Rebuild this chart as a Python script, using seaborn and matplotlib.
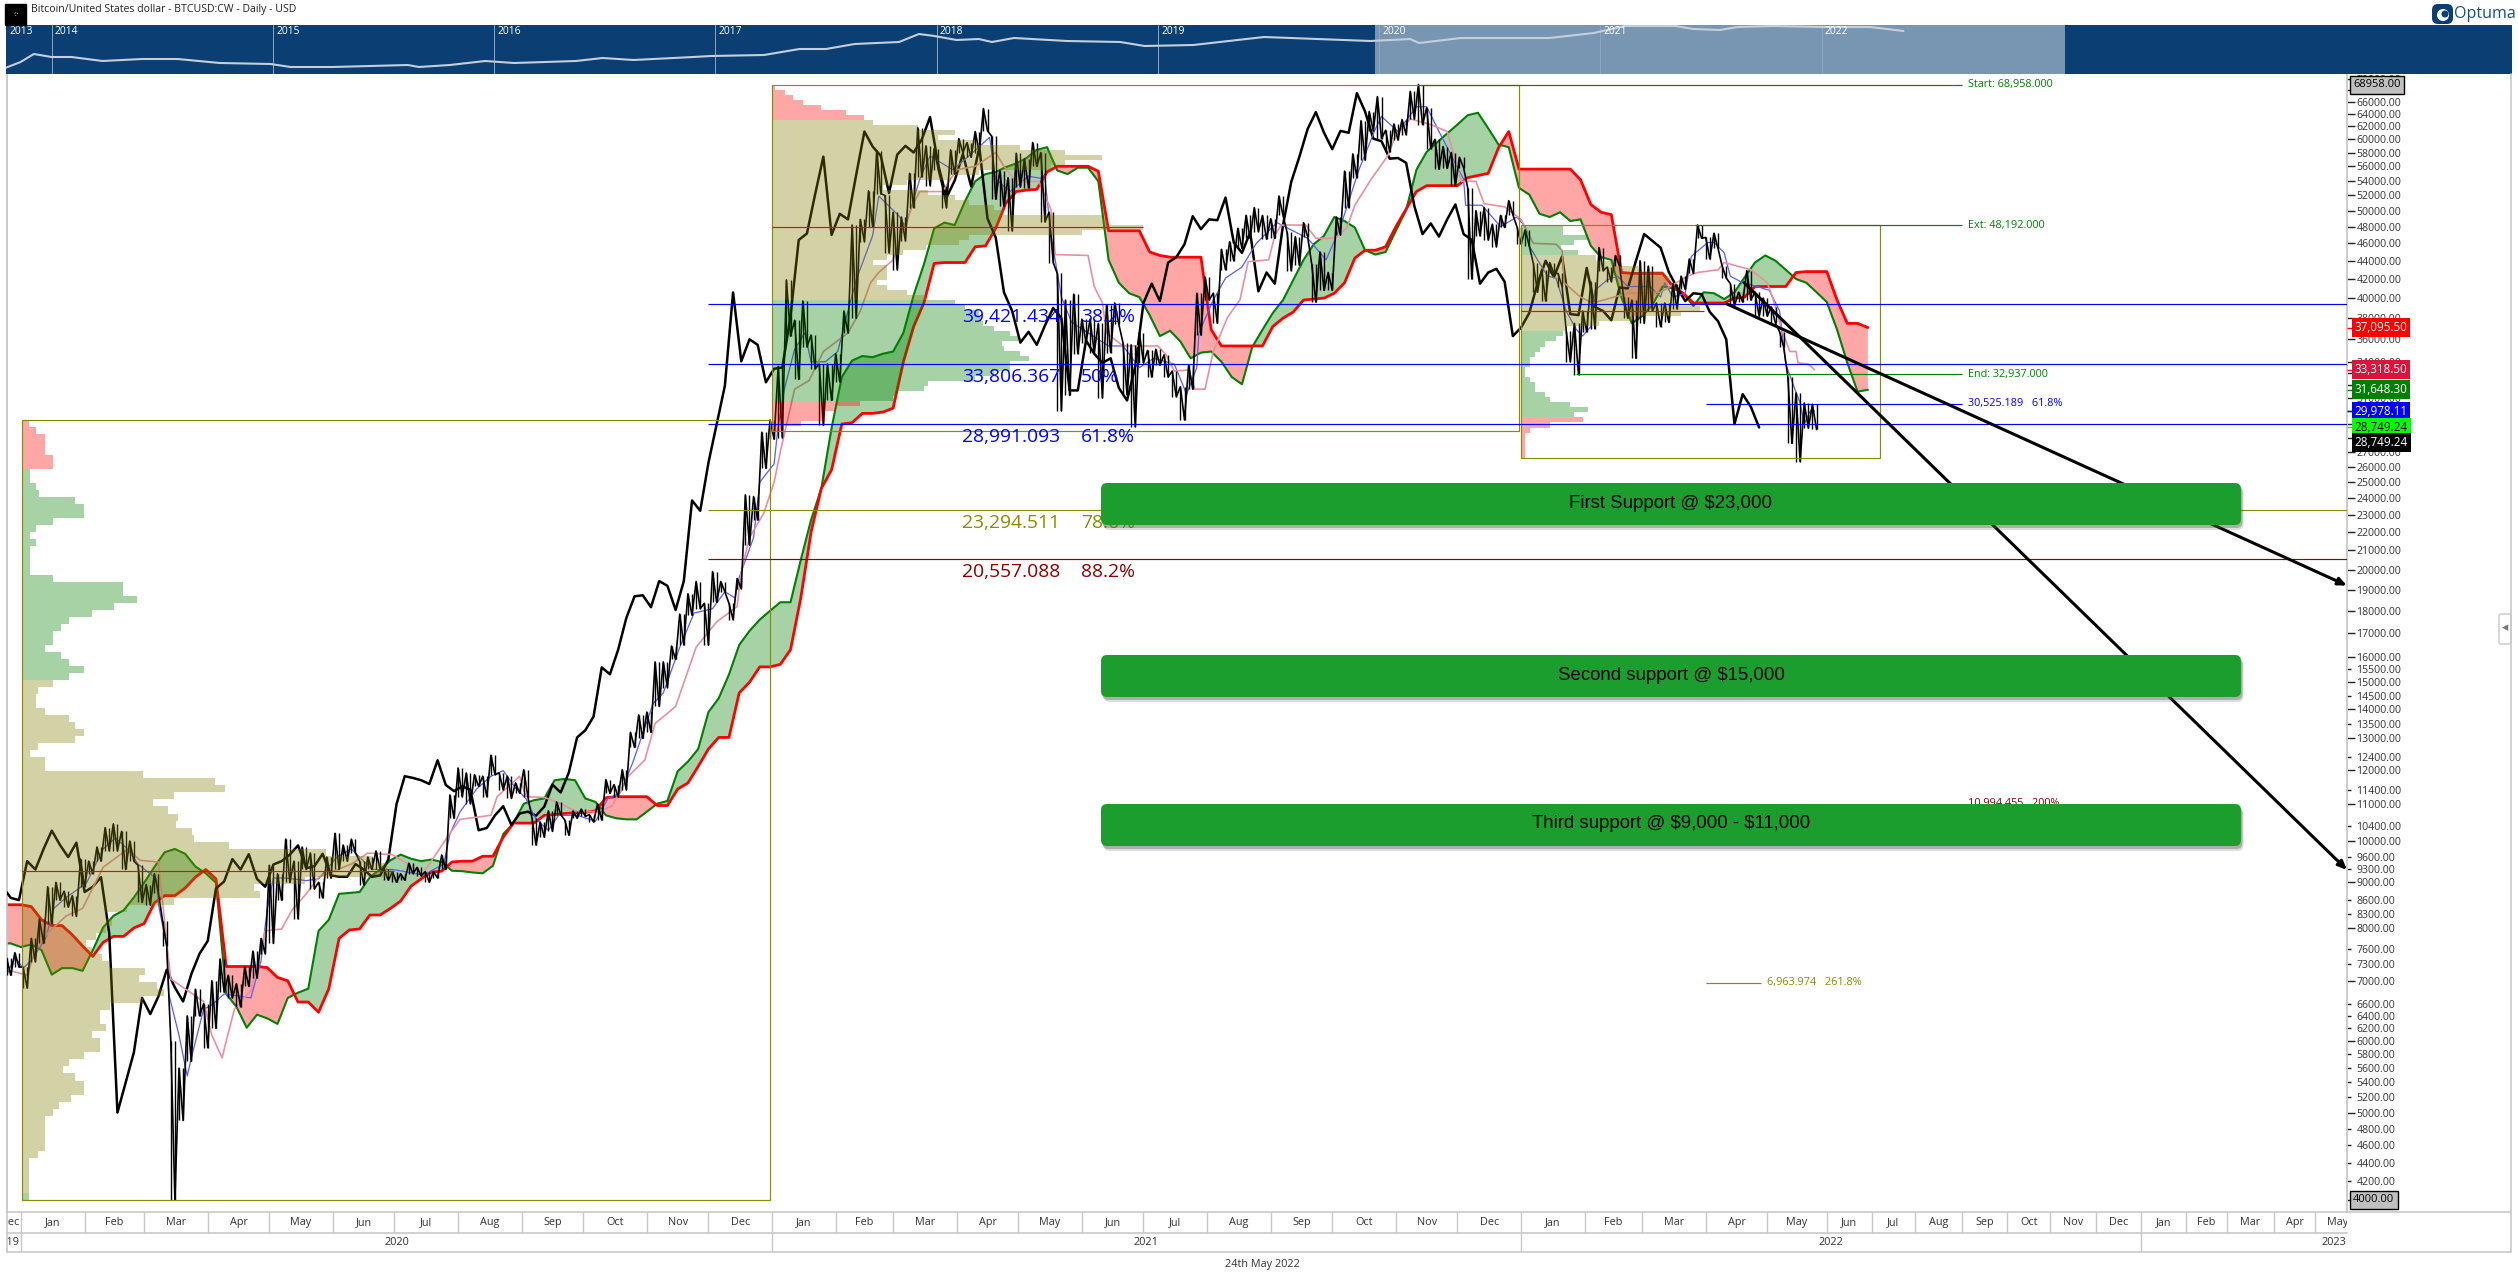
import matplotlib
matplotlib.use('Agg')
import matplotlib.pyplot as plt
from matplotlib.lines import Line2D
from matplotlib.patches import Circle, FancyBboxPatch, Rectangle
import numpy as np
import pandas as pd
import seaborn as sns

OUT_FILE_NAME = 'out.png'
WIDTH = 2518
HEIGHT = 1284

OLIVE = '#8b8b00'
NAVY = '#0b3f73'
BOX_GREEN = '#1b9e2e'
LEVEL_WIDTH = 0.85

# all prices below are in thousands of USD, days count from 2020-01-01

# one entry every 4 days, starting at day -7
closes = [
    7.20, 7.40, 6.98, 7.75, 8.18, 8.82, 8.90, 8.65, 8.60, 9.50, 9.30, 9.80, 10.27, 9.90, 9.60, 9.96,
    8.78, 8.90, 9.12, 7.90, 5.00, 5.40, 5.83, 6.70, 6.43, 6.73, 7.20, 6.88, 6.64, 7.12, 7.50, 7.75,
    8.86, 9.02, 9.55, 9.30, 9.67, 9.08, 8.90, 9.42, 9.50, 9.66, 9.89, 9.33, 9.38, 9.68, 9.16, 9.13,
    9.13, 9.43, 9.30, 9.13, 9.16, 9.54, 10.99, 11.80, 11.75, 11.68, 11.57, 12.29, 11.54, 11.36, 11.50, 11.40,
    10.28, 10.34, 10.68, 10.93, 10.42, 10.73, 10.78, 10.67, 10.92, 11.55, 11.32, 11.92, 13.03, 13.27, 13.74, 15.58,
    15.31, 16.30, 17.68, 18.68, 18.73, 18.17, 19.42, 19.19, 18.04, 19.42, 23.86, 23.24, 26.27, 29.00, 31.97, 40.58,
    34.04, 36.00, 35.50, 32.26, 33.40, 33.50, 38.20, 46.40, 47.17, 52.15, 57.40, 47.00, 49.60, 48.90, 54.80, 61.20,
    58.90, 57.50, 52.30, 57.70, 59.00, 58.00, 60.00, 63.50, 56.20, 51.70, 54.00, 57.80, 53.20, 58.80, 49.00, 46.70,
    40.60, 38.70, 35.70, 36.70, 35.50, 37.30, 39.00, 38.00, 31.60, 31.60, 35.90, 34.70, 33.90, 34.30, 31.80, 30.80,
    33.60, 39.50, 41.50, 39.70, 43.80, 44.40, 45.90, 49.30, 47.70, 48.90, 48.80, 51.70, 46.10, 44.90, 47.30, 40.70,
    42.70, 41.50, 48.20, 53.80, 57.40, 61.60, 64.30, 61.00, 58.50, 61.30, 61.00, 67.50, 64.40, 60.10, 59.70, 57.10,
    57.20, 56.50, 50.60, 47.10, 48.40, 46.80, 48.90, 50.80, 47.10, 46.40, 41.50, 42.70, 43.10, 41.70, 36.30, 37.10,
    38.50, 41.50, 44.00, 42.20, 44.50, 38.40, 38.30, 43.20, 39.10, 38.70, 37.80, 41.10, 41.00, 44.00, 47.10, 46.30,
    45.50, 42.75, 41.10, 39.70, 40.50, 40.40, 38.60, 37.70, 36.00, 29.00, 31.30, 30.30, 28.75,
]
highs = [
    7.42, 7.52, 7.25, 7.80, 8.20, 8.90, 9.00, 8.80, 8.70, 9.55, 9.50, 9.85, 10.35, 10.45, 10.25, 10.00,
    9.40, 8.95, 9.20, 8.15, 6.00, 5.60, 6.40, 6.85, 6.60, 7.00, 7.40, 7.10, 6.95, 7.25, 7.55, 7.80,
    9.40, 9.20, 10.05, 9.50, 9.85, 9.70, 9.00, 9.60, 10.20, 9.90, 10.05, 9.50, 9.60, 9.75, 9.30, 9.25,
    9.20, 9.45, 9.35, 9.25, 9.25, 9.65, 11.25, 12.05, 11.90, 11.85, 11.80, 12.45, 11.90, 11.80, 11.60, 12.00,
    10.60, 10.50, 10.80, 11.05, 10.55, 10.80, 10.85, 10.70, 11.00, 11.70, 11.55, 12.00, 13.20, 13.80, 13.90, 15.80,
    15.80, 16.45, 17.85, 18.80, 19.40, 18.35, 19.90, 19.40, 18.35, 19.55, 24.20, 24.10, 28.40, 29.30, 33.60, 41.90,
    37.80, 39.70, 36.40, 33.80, 33.80, 34.70, 38.70, 48.20, 48.90, 52.60, 58.30, 52.00, 49.80, 49.20, 55.00, 61.80,
    59.00, 58.60, 53.20, 58.40, 60.10, 59.50, 61.20, 64.90, 60.50, 55.40, 54.40, 57.90, 57.10, 59.50, 58.00, 49.80,
    42.60, 39.80, 40.40, 37.90, 37.90, 37.50, 39.30, 39.50, 35.70, 35.50, 36.60, 35.00, 35.10, 34.60, 33.20, 31.90,
    33.70, 40.50, 42.20, 40.50, 45.30, 46.20, 47.80, 49.40, 50.40, 49.40, 49.00, 51.90, 47.30, 46.80, 48.50, 43.60,
    45.00, 42.70, 49.20, 55.30, 57.80, 62.90, 64.40, 66.90, 61.40, 62.40, 63.10, 67.80, 69.00, 65.00, 60.00, 58.90,
    58.00, 57.30, 53.00, 50.00, 50.40, 48.30, 49.40, 51.30, 48.00, 47.60, 43.70, 43.00, 43.80, 42.60, 36.80, 37.50,
    38.70, 41.70, 45.50, 43.30, 44.60, 40.10, 39.80, 44.00, 43.40, 39.50, 39.50, 41.50, 42.30, 44.20, 48.20, 46.70,
    47.20, 43.40, 41.50, 40.60, 42.90, 40.60, 40.00, 39.10, 36.70, 32.70, 31.40, 30.60, 30.50,
]
lows = [
    7.10, 7.25, 6.87, 7.35, 7.70, 8.10, 8.60, 8.45, 8.25, 8.90, 9.20, 9.50, 9.75, 9.75, 9.30, 9.50,
    8.55, 8.50, 8.75, 7.65, 4.00, 4.90, 5.70, 6.40, 5.90, 6.20, 6.80, 6.70, 6.55, 6.90, 7.05, 7.50,
    7.70, 8.60, 9.00, 8.20, 9.30, 8.85, 8.65, 9.10, 9.30, 9.50, 9.70, 8.95, 9.30, 9.30, 9.05, 9.00,
    9.05, 9.20, 9.15, 9.00, 9.10, 9.30, 10.60, 11.20, 11.00, 11.50, 11.20, 11.85, 11.40, 11.15, 11.30, 11.20,
    9.90, 10.10, 10.25, 10.70, 10.15, 10.60, 10.65, 10.50, 10.55, 11.30, 11.20, 11.40, 12.70, 13.00, 13.20, 14.10,
    14.80, 15.90, 16.50, 17.80, 18.10, 16.50, 18.40, 18.90, 17.60, 19.05, 21.30, 22.70, 25.90, 27.90, 28.00, 36.30,
    32.50, 35.30, 33.40, 28.90, 30.80, 32.30, 36.60, 38.00, 46.20, 48.00, 52.20, 44.90, 43.00, 46.30, 50.40, 54.50,
    53.30, 55.50, 50.40, 54.90, 58.00, 57.30, 58.00, 61.30, 51.50, 50.60, 47.50, 53.10, 53.00, 56.00, 48.60, 43.80,
    30.00, 31.20, 34.70, 35.70, 34.80, 31.00, 34.80, 37.40, 31.25, 28.80, 33.90, 32.70, 33.70, 32.70, 31.10, 29.30,
    31.70, 36.40, 39.80, 37.50, 43.00, 44.00, 45.40, 46.60, 47.40, 46.50, 46.60, 49.40, 42.90, 43.50, 46.80, 39.60,
    40.80, 40.80, 47.00, 50.40, 54.40, 56.90, 61.30, 60.10, 58.10, 59.90, 60.70, 63.20, 62.30, 58.60, 55.60, 55.70,
    53.30, 55.80, 42.00, 46.90, 46.40, 45.60, 47.90, 49.50, 45.90, 45.70, 40.60, 39.70, 42.60, 41.20, 34.00, 32.90,
    36.70, 37.00, 42.90, 41.70, 43.40, 38.00, 34.30, 37.50, 38.70, 37.20, 37.60, 38.90, 40.90, 42.60, 46.60, 44.20,
    45.40, 42.10, 39.20, 39.60, 39.80, 38.20, 38.20, 37.50, 35.30, 27.60, 26.35, 28.70, 28.60,
]

# one entry every 5 days, starting at day -10
senkou_b = [
    8.5, 8.5, 8.5, 8.46, 8.18, 8.06, 8.06, 7.87, 7.65, 7.45,
    7.72, 7.84, 7.84, 8.01, 8.1, 8.54, 8.7, 8.7, 8.87, 9.12,
    9.3, 9.08, 7.26, 7.26, 7.26, 7.26, 7.24, 7.06, 7.0, 6.63,
    6.63, 6.46, 6.86, 7.8, 7.97, 7.99, 8.28, 8.28, 8.42, 8.58,
    8.91, 9.08, 9.24, 9.26, 9.48, 9.5, 9.5, 9.62, 9.62, 10.1,
    10.47, 10.47, 10.47, 10.68, 10.7, 10.73, 10.75, 10.76, 10.8, 11.17,
    11.2, 11.2, 11.2, 11.2, 10.95, 10.95, 11.42, 11.6, 12.1, 12.65,
    13.03, 13.03, 14.6, 15.0, 15.6, 15.6, 15.7, 16.3, 18.6, 22.0,
    24.6, 25.8, 29.0, 29.1, 29.8, 29.8, 29.9, 30.2, 34.0, 37.2,
    39.5, 43.7, 43.8, 43.8, 43.8, 45.6, 45.7, 47.8, 51.0, 52.5,
    52.7, 52.8, 55.2, 56.0, 56.0, 56.0, 56.0, 55.3, 47.5, 47.5,
    47.5, 47.5, 45.0, 44.6, 44.4, 44.4, 44.4, 44.4, 36.9, 35.4,
    35.4, 35.4, 35.4, 35.4, 37.2, 38.0, 38.6, 39.8, 39.9, 40.0,
    40.5, 41.6, 44.3, 45.2, 45.2, 45.6, 48.0, 50.2, 52.5, 53.3,
    53.3, 53.3, 53.3, 54.4, 54.7, 55.0, 58.7, 61.2, 55.6, 55.6,
    55.6, 55.6, 55.6, 55.6, 54.1, 50.8, 49.8, 49.5, 42.7, 42.6,
    42.6, 42.6, 42.6, 41.2, 40.5, 39.5, 39.5, 39.5, 39.5, 40.0,
    40.1, 41.2, 41.2, 41.2, 41.2, 42.7, 42.8, 42.8, 42.8, 39.8,
    37.5, 37.5, 37.1,
]
senkou_a = [
    7.7, 7.7, 7.63, 7.68, 7.57, 7.11, 7.23, 7.23, 7.18, 7.57,
    8.02, 8.26, 8.38, 8.66, 8.99, 9.36, 9.72, 9.8, 9.68, 9.37,
    9.21, 8.99, 6.77, 6.55, 6.21, 6.42, 6.36, 6.27, 6.7, 6.79,
    6.86, 7.95, 8.18, 8.74, 8.76, 8.78, 9.12, 9.3, 9.52, 9.66,
    9.56, 9.5, 9.54, 9.48, 9.27, 9.26, 9.23, 9.21, 9.39, 10.18,
    10.47, 11.0, 11.1, 11.15, 11.68, 11.72, 11.68, 11.15, 11.05, 10.68,
    10.6, 10.57, 10.57, 10.78, 11.0, 11.08, 11.95, 12.25, 12.65, 13.9,
    14.4, 15.3, 16.5, 17.1, 17.6, 18.0, 18.4, 18.4, 20.5, 22.7,
    24.6, 28.7, 32.7, 34.1, 34.5, 34.4, 34.7, 34.9, 36.6, 40.3,
    43.6, 47.8, 48.5, 48.2, 51.2, 53.9, 54.9, 55.2, 55.9, 56.4,
    57.2, 58.4, 58.8, 55.4, 54.9, 55.8, 55.8, 53.9, 44.1, 41.6,
    40.5, 40.1, 38.3, 36.3, 36.8, 35.8, 34.3, 34.8, 34.9, 34.0,
    32.7, 32.1, 35.3, 36.9, 38.5, 39.8, 41.9, 44.1, 45.9, 46.9,
    49.2, 48.7, 47.9, 45.2, 44.7, 45.0, 47.5, 50.1, 55.5, 58.1,
    59.5, 60.9, 62.3, 63.8, 64.2, 61.7, 59.2, 58.8, 53.0, 52.1,
    49.6, 49.2, 49.8, 48.7, 48.9, 45.7, 44.4, 44.1, 40.0, 37.5,
    38.2, 39.3, 41.2, 41.0, 40.5, 39.2, 40.6, 40.5, 39.9, 40.6,
    42.2, 43.8, 44.6, 44.0, 43.0, 42.0, 41.6, 40.6, 39.6, 36.9,
    33.9, 31.5, 31.65,
]

tenkan_days = [
    -7, -3, 1, 5, 12, 16, 22, 27, 32, 40, 46, 52, 57, 66, 67, 71, 72, 77, 81, 83, 89, 93, 99, 112, 117,
    120, 123, 129, 139, 145, 154, 161, 171, 181, 186, 196, 206, 209, 214, 222, 229, 235, 241, 246, 251,
    257, 262, 271, 280, 286, 292, 298, 308, 313, 321, 328, 337, 343, 348, 350, 357, 360, 367, 369, 372,
    377, 382, 385, 392, 398, 403, 407, 415, 418, 428, 431, 438, 443, 454, 462, 472, 475, 482, 491, 499,
    502, 507, 512, 520, 530, 537, 545, 552, 562, 568, 573, 574, 581, 587, 595, 602, 612, 627, 636, 643,
    652, 660, 663, 671, 680, 685, 691, 703, 704, 712, 721, 729, 733, 735, 739, 744, 748, 753, 758, 761,
    765, 767, 773, 778, 783, 794, 799, 801, 805, 811, 814, 822, 825, 830, 833, 839, 846, 852, 857, 860,
    864, 867, 869, 872, 874,
]
tenkan = [
    7.1, 7.43, 7.23, 7.37, 7.8, 8.42, 8.66, 8.82, 8.99, 9.8, 10.08, 9.8, 9.43, 9.08, 8.5, 7.65, 6.77, 6.09,
    5.49, 5.75, 6.51, 6.58, 6.77, 6.7, 7.37, 8.42, 9.1, 9.1, 9.04, 9.08, 9.6, 9.8, 9.3, 9.3, 9.26, 9.17,
    9.43, 10.18, 10.78, 11.42, 11.8, 11.97, 11.45, 11.15, 10.57, 10.28, 10.68, 10.68, 10.52, 11.15, 11.31,
    12.2, 14.2, 14.6, 16.4, 17.9, 18.1, 18.9, 18.6, 19.6, 21.7, 25.0, 26.2, 28.9, 31.7, 35.1, 36.6, 34.0,
    34.0, 34.9, 38.7, 41.9, 46.9, 51.9, 49.3, 48.0, 54.2, 57.5, 55.5, 57.5, 60.3, 54.2, 52.5, 54.6, 54.2,
    46.9, 40.1, 37.6, 36.6, 35.4, 35.4, 33.5, 34.3, 33.8, 31.3, 33.5, 36.6, 39.8, 42.1, 43.3, 46.0, 48.5,
    46.6, 44.1, 48.0, 55.5, 61.6, 63.6, 61.2, 65.2, 65.2, 61.2, 54.2, 50.7, 50.7, 48.0, 49.2, 48.0, 45.7,
    44.1, 42.3, 42.1, 38.7, 36.9, 36.3, 37.2, 40.8, 41.9, 42.3, 41.2, 41.2, 40.1, 41.6, 40.1, 40.5, 44.5,
    46.1, 46.1, 44.9, 42.3, 41.6, 41.2, 40.8, 38.7, 33.8, 31.9, 30.6, 29.0, 30.0, 29.98,
]

kijun_days = [
    -7, 3, 7, 12, 22, 30, 40, 52, 58, 67, 71, 73, 89, 93, 98, 100, 104, 112, 119, 127, 132, 139, 145, 161,
    169, 181, 196, 209, 214, 229, 232, 243, 246, 255, 261, 271, 281, 288, 296, 304, 309, 319, 329, 339,
    349, 351, 355, 362, 367, 370, 377, 384, 391, 403, 409, 414, 418, 425, 430, 435, 438, 449, 456, 465,
    475, 479, 485, 496, 502, 504, 520, 523, 527, 529, 537, 554, 558, 562, 569, 572, 577, 581, 588, 594,
    598, 608, 611, 614, 626, 631, 640, 646, 650, 658, 666, 670, 677, 687, 695, 702, 709, 713, 723, 731,
    737, 748, 751, 752, 760, 766, 783, 799, 812, 817, 827, 830, 838, 843, 851, 854, 858, 862, 865, 866,
    871, 874,
]
kijun = [
    7.2, 7.1, 7.57, 7.87, 8.26, 8.42, 9.35, 9.8, 9.52, 9.48, 7.72, 7.03, 6.64, 6.09, 5.75, 6.0, 6.51, 6.83,
    7.95, 7.99, 8.38, 8.74, 9.12, 9.43, 9.7, 9.66, 9.21, 10.2, 10.57, 10.68, 11.2, 11.8, 11.2, 11.18, 11.05,
    10.78, 10.78, 10.93, 11.8, 12.3, 13.5, 14.1, 16.4, 17.5, 18.2, 19.9, 21.7, 23.1, 25.0, 27.0, 31.7, 32.4,
    34.9, 36.6, 38.7, 41.6, 42.7, 44.1, 47.8, 51.0, 52.5, 52.5, 55.5, 56.0, 58.0, 56.0, 53.8, 53.9, 50.1,
    44.7, 44.6, 41.2, 39.5, 36.6, 35.4, 35.4, 34.6, 33.2, 33.3, 31.7, 31.7, 34.9, 38.1, 39.8, 43.9, 44.1,
    46.9, 48.2, 48.2, 46.6, 46.6, 47.8, 50.7, 54.2, 57.5, 60.6, 63.2, 62.3, 61.2, 53.9, 53.9, 50.9, 50.5,
    48.9, 46.0, 45.9, 45.2, 41.6, 40.1, 39.5, 40.5, 40.6, 42.3, 42.7, 43.0, 43.8, 43.3, 43.0, 41.6, 39.8,
    36.9, 34.9, 34.9, 33.9, 33.8, 33.32,
]

# volume by price, widths in bars, top to bottom
vbp_2020_pink = [3.5, 7, 11, 11, 11, 15, 15]
vbp_2020_green = [
    4, 4, 7, 8.5, 26, 30, 30, 15, 7, 4, 7, 4, 4, 4, 4, 15, 49, 49, 56, 45, 34, 23, 19, 15, 15, 11, 19, 23, 30, 23,
]
vbp_2020_khaki = [
    15, 8, 7, 7, 11, 23, 26, 30, 26, 8, 4, 11, 11, 59, 94, 99, 74,
    64, 71, 76, 75, 83, 84, 101, 148, 171, 178, 181, 138, 113, 116, 74, 51, 41, 44, 41, 36, 31, 34, 39, 43,
    60, 57, 66, 69, 59, 43, 38, 38, 41, 34, 38, 38, 30, 23, 20, 26, 30, 30, 24, 18, 15, 11, 11, 11, 11, 11,
    8, 3.5, 3.5, 3.5, 3.5, 3.5,
]
vbp_2020_tail = [3.5]

vbp_2021_pink_top = [1.5, 6.5, 10, 15, 24, 36, 45]
vbp_2021_khaki = [
    49, 71, 89, 81, 99, 121, 143, 161, 143, 136, 101, 87, 66, 54, 76, 89, 96, 108, 113, 161, 163, 181, 151,
    96, 91, 75, 64, 56, 49, 56, 56, 56, 51, 56, 66, 75,
]
vbp_2021_green = [89, 94, 101, 102, 103, 108, 116, 120, 112, 113, 121, 125, 116, 116, 108, 99, 76, 74, 61, 59]
vbp_2021_pink_low = [43, 31, 26, 26, 14, 5]

vbp_2022_green_top = [20.5, 20.5, 32.6, 26, 19.7, 27.8]
vbp_2022_khaki = [36.7, 45.6, 57.8, 69, 72.4, 71.6, 72.4, 73.3, 74, 74.9, 87, 78, 54.6, 38, 22]
vbp_2022_green_low = [20.5, 17, 11.5, 9, 6.7, 4.2, 4.2, 1.8, 1.8, 4.2, 6.7, 6.7, 11.5, 14, 23.7, 32.6, 26]
vbp_2022_pink = [30, 14, 4.2, 1.8, 1.8, 1.8, 1.8, 1.8]

# fibonacci levels
retracements = [
    (39421.434, '39,421.434', '38.2%', 'blue'),
    (33806.367, '33,806.367', '50%', 'blue'),
    (28991.093, '28,991.093', '61.8%', 'blue'),
    (23294.511, '23,294.511', '78.6%', OLIVE),
    (20557.088, '20,557.088', '88.2%', 'darkred'),
]
extension_lines = [
    (68958.0, 681, 'Start: 68,958.000', 'green'),
    (48192.0, 816, 'Ext: 48,192.000', 'green'),
    (32937.0, 758, 'End: 32,937.000', 'green'),
    (30525.189, 821, '30,525.189   61.8%', 'blue'),
]
# these two only peek out from under the support boxes
extension_texts = [
    (14578.0, '14,578.000   161.8%', 'darkblue'),
    (10994.455, '10,994.455   200%', 'darkred'),
]

price_tags = [
    (37095.50, '37,095.50', 'red', 'white', 0),
    (33318.50, '33,318.50', 'crimson', 'white', 0),
    (31648.30, '31,648.30', 'green', 'white', 0),
    (29978.11, '29,978.11', 'blue', 'white', 0),
    (28749.24, '28,749.24', 'lime', 'black', 0),
    (28749.24, '28,749.24', 'black', 'white', -11),
]

major_ticks = [70000, 68000, 66000, 64000, 62000, 60000, 58000, 56000, 54000, 52000, 50000, 48000,
               46000, 44000, 42000, 40000, 38000, 36000, 34000, 33000, 32000, 31000, 30000, 29000,
               28000, 27000, 26000, 25000, 24000, 23000, 22000, 21000, 20000, 19000, 18000, 17000,
               16000, 15000, 14000, 13000, 12000, 11000, 10000, 9000, 8000, 7000, 6000, 5000]
minor_ticks = [15500, 14500, 13500, 12400, 11400, 10400, 9600, 9300, 8600, 8300, 7600, 7300, 6600, 6400,
               6200, 5800, 5600, 5400, 5200, 4800, 4600, 4400, 4200]

strip_years = [
    2013.79, 2013.86, 2013.92, 2014.0, 2014.09, 2014.23, 2014.41, 2014.57, 2014.76, 2014.99, 2015.08, 2015.27,
    2015.61, 2015.66, 2015.8, 2015.96, 2016.09, 2016.37, 2016.49, 2016.63, 2016.9, 2016.98, 2017.22, 2017.38,
    2017.5, 2017.63, 2017.83, 2017.92, 2017.99, 2018.09, 2018.19, 2018.25, 2018.35, 2018.59, 2018.83, 2018.94,
    2019.16, 2019.36, 2019.48, 2019.72, 2019.96, 2020.14, 2020.18, 2020.37, 2020.77, 2020.97, 2021.11, 2021.34,
    2021.42, 2021.54, 2021.62, 2021.78, 2022.0, 2022.22, 2022.37,
]
strip_levels = [
    6, 12, 20, 17, 17, 13, 15, 15, 11, 10, 7, 7, 9, 7, 9, 13, 11, 13, 16, 14, 17, 18, 19, 25, 25, 30, 32, 40, 38,
    34, 35, 32, 36, 33, 32, 28, 29, 34, 37, 35, 33, 35, 31, 36, 36, 41, 48, 48, 45, 44, 47, 48, 47, 47, 43,
]

support_boxes = [
    (483, 525, 'First Support @ \\$23,000'),
    (655, 697, 'Second support @ \\$15,000'),
    (804, 846, 'Third support @ \\$9,000 - \\$11,000'),
]

year_labels = [(-6.9, '2019'), (183, '2020'), (548, '2021'), (882, '2022'), (1127, '2023')]


def date_to_bar(date):
    # every calendar day is a bar up to the last candle, weekdays only after it
    date = pd.Timestamp(date)
    last = pd.Timestamp('2022-05-24')
    if date <= last:
        return (date - pd.Timestamp('2020-01-01')).days
    return 874 + np.busday_count(last.date(), date.date())


def px_rect(left, top, right, bottom):
    return [left / WIDTH, 1 - bottom / HEIGHT, (right - left) / WIDTH, (bottom - top) / HEIGHT]


def _line(ax, x, y, color, width, alpha=1.0, zorder=2):
    sns.lineplot(x=x, y=y, ax=ax, color=color, linewidth=width, alpha=alpha,
                 estimator=None, sort=False, legend=False, zorder=zorder)


def _plot_cloud(ax):
    days = -10 + 5 * np.arange(len(senkou_a))
    span_a = np.array(senkou_a) * 1000
    span_b = np.array(senkou_b) * 1000
    ax.fill_between(days, span_a, span_b, where=span_a >= span_b, interpolate=True,
                    color='green', alpha=0.35, linewidth=0, zorder=1)
    ax.fill_between(days, span_a, span_b, where=span_a <= span_b, interpolate=True,
                    color='red', alpha=0.35, linewidth=0, zorder=1)
    _line(ax, days, span_a, 'green', 1.5)
    _line(ax, days, span_b, 'red', 2.0)


def _plot_price(ax):
    days = -7 + 4 * np.arange(len(closes))
    low_prices = np.array(lows) * 1000
    high_prices = np.array(highs) * 1000
    # chikou is the close drawn 26 bars back
    _line(ax, days - 26, np.array(closes) * 1000, 'black', 1.8, zorder=3)
    _line(ax, tenkan_days, np.array(tenkan) * 1000, '#5a5aff', 0.9, zorder=3)
    _line(ax, kijun_days, np.array(kijun) * 1000, '#e8909f', 1.2, zorder=3)
    zig_x = np.column_stack([days, days + 2]).ravel()
    zig_y = np.column_stack([high_prices, low_prices]).ravel()
    _line(ax, zig_x, zig_y, 'black', 1.2, zorder=3)
    ax.vlines(days, low_prices, high_prices, color='black', linewidth=1.0, zorder=3)
    ax.vlines(days + 2, low_prices, high_prices, color='black', linewidth=1.0, zorder=3)


def _plot_profile(ax, start, top, bottom, sections):
    count = sum(len(widths) for widths, _ in sections)
    edges = np.geomspace(top, bottom, count + 1)
    i = 0
    for widths, color in sections:
        for width in widths:
            ax.barh(edges[i + 1], width, height=edges[i] - edges[i + 1], left=start, align='edge',
                    color=color, alpha=0.35, linewidth=0, zorder=4)
            i += 1


def _plot_boxes(ax):
    for start, end, top, bottom, poc, poc_end in [
            (0.5, 365, 29300, 4000, 9270, 182),
            (366, 730, 68958, 28500, 47900, 547),
            (731, 906, 48192, 26600, 38700, 820)]:
        ax.add_patch(Rectangle((start, bottom), end - start, top - bottom, fill=False,
                               edgecolor=OLIVE, linewidth=LEVEL_WIDTH, zorder=5))
        ax.hlines(poc, start, poc_end, color='red', linewidth=LEVEL_WIDTH, zorder=5)


def _plot_levels(ax):
    left_day = 335
    for price, value, pct, color in retracements:
        ax.hlines(price, left_day, 1133.5, color=color, linewidth=LEVEL_WIDTH, zorder=5)
        for day, text in [(458.6, value), (516.4, pct)]:
            ax.annotate(text, xy=(day, price), xytext=(0, -9.4), textcoords='offset points',
                        color=color, fontsize=13.9, va='center', ha='left', zorder=5)
    for price, first_day, text, color in extension_lines:
        ax.hlines(price, first_day, 946, color=color, linewidth=LEVEL_WIDTH, zorder=5)
        ax.text(949, price, text, color=color, fontsize=7.8, va='center', ha='left', zorder=5)
    for price, text, color in extension_texts:
        ax.text(949, price, text, color=color, fontsize=7.8, va='center', ha='left', zorder=5)
    ax.hlines(6963.974, 821, 848, color=OLIVE, linewidth=LEVEL_WIDTH, zorder=5)
    ax.text(851, 6963.974, '6,963.974   261.8%', color=OLIVE, fontsize=7.8, va='center', ha='left', zorder=5)
    # the two trend arrows
    for start, end in [((831.4, 39400), (1133.5, 19200)), ((839.7, 41600), (1133.5, 9290))]:
        ax.annotate('', xy=end, xytext=start, zorder=6,
                    arrowprops=dict(arrowstyle='-|>,head_width=0.22,head_length=0.5',
                                    color='black', linewidth=2.2, shrinkA=0, shrinkB=0))


def _setup_price_axis(ax):
    ax.set_yscale('log')
    ax.set_xlim(-7.02, 1133.5)
    ax.set_ylim(3879, 70880)
    ax.set_xticks([])
    ax.yaxis.tick_right()
    ax.set_yticks(major_ticks + [4000])
    ax.set_yticklabels(['{0}.00'.format(v) for v in major_ticks] + [''])
    ax.set_yticks(minor_ticks, minor=True)
    ax.set_yticklabels(['{0}.00'.format(v) for v in minor_ticks], minor=True)
    ax.tick_params(axis='y', which='major', length=5.8, width=1, color='#222222', pad=1,
                   labelsize=7.6, labelcolor='#333333', right=True)
    ax.tick_params(axis='y', which='minor', length=2.9, width=1, color='#222222', pad=3.9,
                   labelsize=7.6, labelcolor='#333333', right=True)
    ax.set_xlabel('')
    ax.set_ylabel('')
    for name in ['top', 'bottom']:
        ax.spines[name].set_visible(False)
    for name in ['left', 'right']:
        ax.spines[name].set_color('#c4c4c4')
        ax.spines[name].set_linewidth(1.2)


def _plot_price_tags(ax):
    trans = ax.get_yaxis_transform()
    for price, text, bg, fg, shift in price_tags:
        ax.annotate(text, xy=(1.0032, price), xycoords=trans, xytext=(0, shift), textcoords='offset points',
                    color=fg, fontsize=8.4, va='center', ha='left', annotation_clip=False, zorder=10,
                    bbox=dict(boxstyle='square,pad=0.25', facecolor=bg, edgecolor='none'))
        if shift == 0:
            ax.hlines(price, 1.0, 1.003, transform=trans, color=bg, linewidth=1, clip_on=False, zorder=9)
    for price, text in [(68958, '68958.00'), (4000, '4000.00')]:
        ax.annotate(text, xy=(1.0026, price), xycoords=trans, color='black', fontsize=8,
                    va='center', ha='left', annotation_clip=False, zorder=10,
                    bbox=dict(boxstyle='square,pad=0.3', facecolor='#c0c0c0', edgecolor='black', linewidth=1))


def _plot_date_rows(fig):
    ax = fig.add_axes(px_rect(6.6, 1212, 2347, 1252))
    ax.set_xlim(-7.02, 1133.5)
    ax.set_ylim(1252, 1212)
    ax.axis('off')
    months = pd.date_range('2019-12-01', '2023-05-01', freq='MS')
    edges = [date_to_bar(m) for m in months] + [1133.5 + 6]
    for i in range(len(months)):
        center = -5.4 if i == 0 else (edges[i] + edges[i + 1]) / 2
        ax.text(center, 1222.5, months[i].strftime('%b'), fontsize=7.8, color='#333333',
                ha='center', va='center', clip_on=True)
        ax.vlines(edges[i], 1212, 1233, color='#c8c8c8', linewidth=1)
    for day, text in year_labels:
        ax.text(day, 1242.5, text, fontsize=7.8, color='#333333', ha='center', va='center', clip_on=True)
    for year in ['2020', '2021', '2022', '2023']:
        ax.vlines(date_to_bar(year + '-01-01'), 1233, 1252, color='#c8c8c8', linewidth=1)


def _plot_strip(fig):
    ax = fig.add_axes(px_rect(6, 25, 2512, 74), facecolor=NAVY)
    ax.axvspan(2019.98, 2023.1, color='#7896b2', linewidth=0)
    for year in range(2014, 2023):
        ax.axvline(year, color='#8da6bf', linewidth=0.7)
        ax.text(year + 0.015, 43, str(year), color='white', fontsize=7.4, va='center', ha='left')
    ax.text(2013.81, 43, '2013', color='white', fontsize=7.4, va='center', ha='left')
    _line(ax, strip_years, strip_levels, '#c4cfdb', 1.5)
    ax.set_xlim(2013.794, 2025.12)
    ax.set_ylim(0, 49)
    ax.set_xlabel('')
    ax.set_ylabel('')
    ax.set_xticks([])
    ax.set_yticks([])
    for spine in ax.spines.values():
        spine.set_visible(False)


def _plot_overlay(fig):
    ax = fig.add_axes([0, 0, 1, 1], zorder=5)
    ax.set_xlim(0, WIDTH)
    ax.set_ylim(HEIGHT, 0)
    ax.axis('off')
    ax.patch.set_alpha(0)

    ax.add_patch(Rectangle((5, 4), 21, 21, color='black'))
    ax.text(16, 15, '\u00b7:\u00b7', color='white', fontsize=5, ha='center', va='center')
    ax.text(31, 9.5, 'Bitcoin/United States dollar - BTCUSD:CW - Daily - USD', fontsize=7.6,
            color='#222222', va='center', ha='left')

    ax.add_patch(FancyBboxPatch((2432, 4), 21, 20, boxstyle='round,pad=0,rounding_size=6',
                                facecolor=NAVY, edgecolor='none'))
    ax.add_patch(Circle((2443, 15), 6, facecolor='white', edgecolor='none'))
    ax.add_patch(Circle((2445, 14), 3.5, facecolor=NAVY, edgecolor='none'))
    ax.text(2454, 14, 'Optuma', fontsize=11.6, color='#1b4f7f', va='center', ha='left')

    # chart frame outside the price axes
    ax.add_line(Line2D([2511, 2511], [74, 1252], color='#c8c8c8', linewidth=1.2))
    ax.add_line(Line2D([6.6, 2511], [1212, 1212], color='#c8c8c8', linewidth=1.2))
    ax.add_line(Line2D([6.6, 2347], [1233, 1233], color='#c8c8c8', linewidth=1.2))
    ax.add_line(Line2D([6.6, 2511], [1252, 1252], color='#c8c8c8', linewidth=1.2))
    ax.add_line(Line2D([6.6, 6.6], [1212, 1252], color='#c8c8c8', linewidth=1.2))

    ax.add_patch(FancyBboxPatch((2499, 614), 12, 30, boxstyle='round,pad=0,rounding_size=2',
                                facecolor='white', edgecolor='#c8c8c8', linewidth=1))
    ax.text(2505, 628, '\u25c2', color='#777777', fontsize=9, ha='center', va='center')

    ax.text(1262, 1264, '24th May 2022', fontsize=7.8, color='#333333', ha='center', va='center')

    for top, bottom, text in support_boxes:
        for offset, alpha in [(5, 0.2), (3, 0.35)]:
            ax.add_patch(FancyBboxPatch((1101 + offset / 2, top + offset), 1140, bottom - top,
                                        boxstyle='round,pad=0,rounding_size=6',
                                        facecolor='#555555', edgecolor='none', alpha=alpha))
        ax.add_patch(FancyBboxPatch((1101, top), 1140, bottom - top, boxstyle='round,pad=0,rounding_size=6',
                                    facecolor=BOX_GREEN, edgecolor='none'))
        ax.text(1671, (top + bottom) / 2 - 1, text, color='black', fontsize=13.4, family='Liberation Sans',
                ha='center', va='center')


def main():
    sns.set_style('white')
    plt.rcParams['font.family'] = ['Open Sans', 'DejaVu Sans']

    fig = plt.figure(figsize=(WIDTH / 100, HEIGHT / 100), dpi=100)
    ax = fig.add_axes(px_rect(6.6, 74, 2347, 1212))

    _plot_cloud(ax)
    _plot_price(ax)
    _setup_price_axis(ax)
    _plot_profile(ax, 0.5, 29300, 4000, [(vbp_2020_pink, 'red'), (vbp_2020_green, 'green'),
                                         (vbp_2020_khaki, 'olive'), (vbp_2020_tail, 'green')])
    _plot_profile(ax, 366, 68958, 28500, [(vbp_2021_pink_top, 'red'), (vbp_2021_khaki, 'olive'),
                                          (vbp_2021_green, 'green'), (vbp_2021_pink_low, 'red')])
    _plot_profile(ax, 731, 48192, 26600, [(vbp_2022_green_top, 'green'), (vbp_2022_khaki, 'olive'),
                                          (vbp_2022_green_low, 'green'), (vbp_2022_pink, 'red')])
    _plot_boxes(ax)
    _plot_levels(ax)
    _setup_price_axis(ax)
    _plot_price_tags(ax)
    _plot_date_rows(fig)
    _plot_strip(fig)
    _plot_overlay(fig)

    fig.savefig(OUT_FILE_NAME, dpi=100)
    plt.close(fig)


if __name__ == '__main__':
    main()
